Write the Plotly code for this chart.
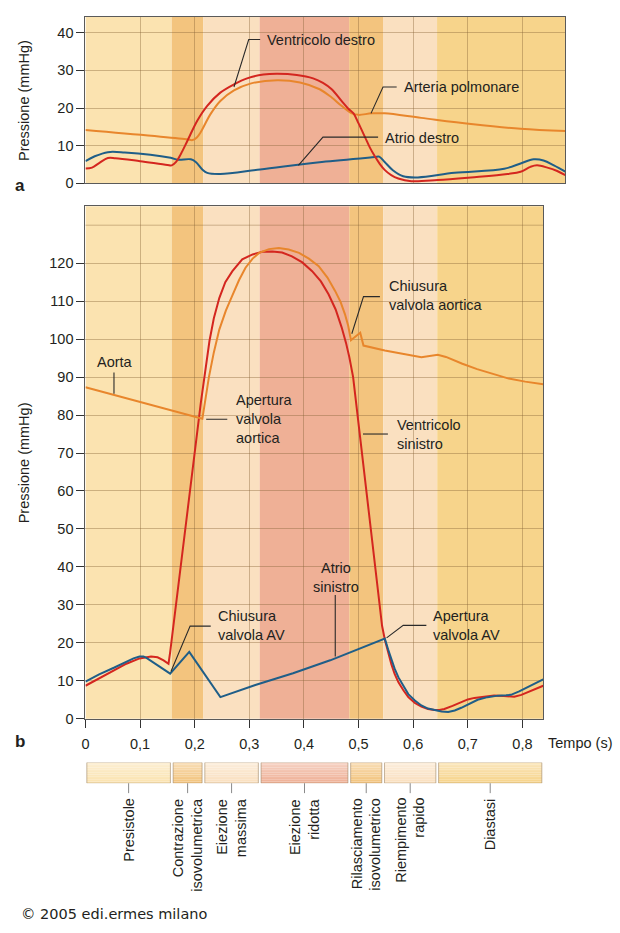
import plotly.graph_objects as go

# ---------------- data ----------------
# Top panel (a): right heart
RV_T = [0, 0.012, 0.025, 0.041, 0.055, 0.100, 0.150, 0.158, 0.166, 0.175, 0.187, 0.205, 0.223, 0.247,
        0.272, 0.296, 0.326, 0.351, 0.387, 0.417, 0.435, 0.451, 0.469, 0.481, 0.491, 0.500, 0.512,
        0.521, 0.530, 0.539, 0.548, 0.560, 0.573, 0.597, 0.645, 0.706, 0.773, 0.797, 0.815, 0.827,
        0.846, 0.864, 0.879]
RV_P = [3.95, 4.2, 5.4, 6.75, 6.7, 5.9, 4.9, 4.8, 5.7, 7.9, 11.4, 16.7, 20.6, 24.1,
        26.3, 27.9, 28.9, 29.1, 28.8, 27.9, 26.7, 25.0, 21.9, 19.9, 18.6, 16.0, 12.3,
        9.5, 7.2, 5.2, 3.6, 2.2, 1.3, 0.6, 0.9, 1.6, 2.5, 3.1, 4.4, 4.8,
        4.2, 3.3, 2.2]

PA_T = [0, 0.185, 0.196, 0.204, 0.211, 0.229, 0.247, 0.272, 0.302, 0.351, 0.393, 0.429, 0.451,
        0.469, 0.488, 0.500, 0.524, 0.548, 0.615, 0.706, 0.797, 0.879]
PA_P = [14.2, 11.75, 11.5, 12.2, 13.6, 18.4, 21.9, 24.7, 26.5, 27.4, 26.8, 25.0, 22.8,
        20.6, 18.6, 18.2, 18.6, 18.6, 17.4, 15.8, 14.5, 13.9]

RA_T = [0, 0.017, 0.041, 0.072, 0.156, 0.169, 0.193, 0.202, 0.214, 0.223, 0.247, 0.320, 0.433,
        0.530, 0.538, 0.548, 0.563, 0.582, 0.609, 0.676, 0.767, 0.797, 0.821, 0.839, 0.858, 0.879]
RA_P = [5.9, 7.2, 8.3, 8.2, 6.8, 6.3, 6.4, 5.7, 3.7, 2.8, 2.5, 3.7, 5.7,
        7.0, 7.1, 5.7, 3.5, 1.9, 1.6, 2.8, 3.9, 5.3, 6.4, 6.1, 4.8, 3.1]

# Bottom panel (b): left heart
AO_T = [0, 0.205, 0.214, 0.226, 0.235, 0.245, 0.257, 0.269, 0.281, 0.293, 0.306, 0.318, 0.336,
        0.354, 0.372, 0.391, 0.409, 0.427, 0.443, 0.457, 0.467, 0.475, 0.481, 0.486, 0.503,
        0.509, 0.548, 0.615, 0.630, 0.645, 0.660, 0.690, 0.717, 0.745, 0.775, 0.805, 0.838]
AO_P = [87.3, 79.5, 79.0, 90.0, 96.5, 102.5, 107.5, 111.5, 115.5, 118.8, 121.2, 122.7, 123.7,
        124.0, 123.6, 122.7, 121.2, 119.2, 116.2, 112.7, 109.8, 106.6, 103.5, 99.7, 101.7,
        98.3, 97.0, 95.2, 95.6, 95.9, 95.3, 93.5, 92.1, 90.8, 89.6, 88.8, 88.1]

LV_T = [0, 0.025, 0.053, 0.075, 0.099, 0.120, 0.132, 0.143, 0.152, 0.155, 0.211, 0.217, 0.221,
        0.227, 0.235, 0.245, 0.256, 0.269, 0.287, 0.306, 0.324, 0.342, 0.360, 0.378, 0.397, 0.415,
        0.431, 0.445, 0.458, 0.469, 0.477, 0.483, 0.490, 0.5355, 0.539, 0.543, 0.548, 0.554,
        0.560, 0.566, 0.573, 0.582, 0.591, 0.603, 0.615, 0.627, 0.639, 0.648, 0.657, 0.672,
        0.688, 0.700, 0.712, 0.730, 0.748, 0.766, 0.785, 0.798, 0.809, 0.824, 0.838]
LV_P = [8.7, 10.7, 12.8, 14.5, 15.9, 16.4, 16.2, 15.4, 14.5, 17.5, 83.0, 89.5, 94.0,
        99.5, 105.5, 110.8, 115.0, 117.9, 121.0, 122.3, 123.0, 123.1, 122.8, 121.8, 120.2, 117.9,
        115.2, 111.8, 107.8, 103.1, 99.0, 95.3, 90.0, 33.5, 28.3, 24.5, 20.9, 17.5,
        14.4, 11.8, 9.6, 7.5, 5.7, 4.2, 3.2, 2.6, 2.3, 2.3, 2.6, 3.4,
        4.4, 5.1, 5.5, 5.9, 6.1, 6.0, 5.8, 6.3, 7.0, 7.8, 8.7]

LA_T = [0, 0.025, 0.053, 0.075, 0.088, 0.099, 0.106, 0.111, 0.155, 0.190, 0.247, 0.311, 0.380,
        0.448, 0.500, 0.548, 0.554, 0.560, 0.566, 0.573, 0.582, 0.591, 0.603, 0.615, 0.627,
        0.639, 0.652, 0.664, 0.676, 0.688, 0.703, 0.718, 0.736, 0.755, 0.770, 0.779, 0.794,
        0.809, 0.824, 0.838]
LA_P = [9.8, 11.7, 13.5, 15.1, 15.9, 16.4, 16.4, 16.1, 11.9, 17.6, 5.7, 8.9, 12.0,
        15.4, 18.3, 21.1, 18.3, 15.7, 13.2, 10.9, 8.5, 6.5, 4.8, 3.5, 2.7,
        2.3, 1.9, 1.8, 2.2, 2.9, 4.0, 5.0, 5.7, 6.1, 6.2, 6.3, 7.2,
        8.3, 9.4, 10.4]

# Cardiac cycle phases
PHASE_NAMES = ["Presistole", "Contrazione<br>isovolumetrica", "Eiezione<br>massima",
               "Eiezione<br>ridotta", "Rilasciamento<br>isovolumetrico", "Riempimento<br>rapido",
               "Diastasi"]
PHASE_EDGES = [0, 0.158, 0.216, 0.319, 0.483, 0.545, 0.644, 0.879]

X_TICKS = [0, 0.1, 0.2, 0.3, 0.4, 0.5, 0.6, 0.7, 0.8]
X_TICK_LABELS = ["0", "0,1", "0,2", "0,3", "0,4", "0,5", "0,6", "0,7", "0,8"]
Y_TICKS_A = [0, 10, 20, 30, 40]
Y_TICKS_B = [0, 10, 20, 30, 40, 50, 60, 70, 80, 90, 100, 110, 120]

# ---------------- style ----------------
W, H = 620, 933
FONT = "Liberation Sans, Arial, sans-serif"
FS = 14.5
TXT = "#231f20"
RED = "#d4261f"
ORANGE = "#e8862c"
BLUE = "#1f5e88"
GRID = "rgba(135,100,55,0.40)"
FRAME = "#5a5a5a"
BAND_COLORS = ["#fbe3b0", "#f3c47e", "#fae0c0", "#efb096", "#f3c47e", "#fae0c0", "#f7d48b"]

XA_MAX = 0.879
XB_MAX = 0.838
YA_MAX = 44.3
YB_MAX = 135


def px(x):
    return x / W


def py(y):
    return 1 - y / H


fig = go.Figure()

line_w = 2.0
fig.add_trace(go.Scatter(x=PA_T, y=PA_P, mode="lines", line=dict(color=ORANGE, width=line_w, shape="spline"),
                         xaxis="x", yaxis="y", hoverinfo="skip"))
fig.add_trace(go.Scatter(x=RA_T, y=RA_P, mode="lines", line=dict(color=BLUE, width=line_w, shape="spline"),
                         xaxis="x", yaxis="y", hoverinfo="skip"))
fig.add_trace(go.Scatter(x=RV_T, y=RV_P, mode="lines", line=dict(color=RED, width=line_w, shape="spline"),
                         xaxis="x", yaxis="y", hoverinfo="skip"))

fig.add_trace(go.Scatter(x=LV_T, y=LV_P, mode="lines", line=dict(color=RED, width=line_w),
                         xaxis="x2", yaxis="y2", hoverinfo="skip"))
fig.add_trace(go.Scatter(x=AO_T, y=AO_P, mode="lines", line=dict(color=ORANGE, width=line_w),
                         xaxis="x2", yaxis="y2", hoverinfo="skip"))
fig.add_trace(go.Scatter(x=LA_T, y=LA_P, mode="lines", line=dict(color=BLUE, width=line_w),
                         xaxis="x2", yaxis="y2", hoverinfo="skip"))

shapes = []
# phase bands in both panels
for i in range(len(PHASE_NAMES)):
    for xr, yr in (("x", "y domain"), ("x2", "y2 domain")):
        shapes.append(dict(type="rect", xref=xr, yref=yr, x0=PHASE_EDGES[i], x1=PHASE_EDGES[i + 1],
                           y0=0, y1=1, fillcolor=BAND_COLORS[i], line=dict(width=0), layer="below"))
# extra gridline at 130 in panel b
shapes.append(dict(type="line", xref="x2 domain", yref="y2", x0=0, x1=1, y0=130, y1=130,
                   line=dict(color=GRID, width=1), layer="below"))


def hex_rgb(h):
    h = h.lstrip("#")
    return tuple(int(h[k:k + 2], 16) for k in (0, 2, 4))


# phase bar with vertical gradient
NSTRIP = 12
for i in range(len(PHASE_NAMES)):
    x0 = PHASE_EDGES[i] + 0.0025
    x1 = min(PHASE_EDGES[i + 1], XB_MAX) - 0.0025
    r, g, b = hex_rgb(BAND_COLORS[i])
    for k in range(NSTRIP):
        f = k / (NSTRIP - 1)  # 0 bottom -> 1 top
        mix = 0.42 * f
        c = "rgb(%d,%d,%d)" % (r + (255 - r) * mix, g + (255 - g) * mix, b + (255 - b) * mix)
        shapes.append(dict(type="rect", xref="x3", yref="y3", x0=x0, x1=x1, y0=k / NSTRIP,
                           y1=(k + 1) / NSTRIP, fillcolor=c, line=dict(width=0), layer="above"))
    shapes.append(dict(type="rect", xref="x3", yref="y3", x0=x0, x1=x1, y0=0, y1=1,
                       fillcolor="rgba(0,0,0,0)", line=dict(color="rgba(160,135,100,0.75)", width=0.8),
                       layer="above"))
    xc = (PHASE_EDGES[i] + min(PHASE_EDGES[i + 1], XB_MAX)) / 2
    shapes.append(dict(type="line", xref="x3", yref="paper", x0=xc, x1=xc, y0=py(790), y1=py(800),
                       line=dict(color="#8a8a8a", width=1)))


def leader(xr, yr, pts):
    d = "M " + " L ".join("%g,%g" % p for p in pts)
    shapes.append(dict(type="path", xref=xr, yref=yr, path=d, line=dict(color="#2a2a2a", width=1.1),
                       layer="above"))


# leaders, panel a
leader("x", "y", [(0.272, 25.6), (0.299, 38.2), (0.320, 38.2)])
leader("x", "y", [(0.523, 18.6), (0.545, 25.6), (0.570, 25.6)])
leader("x", "y", [(0.390, 4.8), (0.435, 12.3), (0.536, 12.3)])
# leaders, panel b
leader("x2", "y2", [(0.0522, 91.2), (0.0522, 85.6)])
leader("x2", "y2", [(0.221, 78.9), (0.2596, 78.9)])
leader("x2", "y2", [(0.508, 75.0), (0.5537, 75.0)])
leader("x2", "y2", [(0.4876, 101.4), (0.509, 111.2), (0.5391, 111.2)])
leader("x2", "y2", [(0.4573, 32.6), (0.4573, 16.4)])
leader("x2", "y2", [(0.1565, 12.45), (0.1916, 24.4), (0.2293, 24.4)])
leader("x2", "y2", [(0.5513, 21.3), (0.5817, 24.6), (0.6241, 24.6)])

ann = []


def label(text, x, y, xr, yr, xanchor="left", align="left", size=FS, **kw):
    ann.append(dict(text=text, x=x, y=y, xref=xr, yref=yr, xanchor=xanchor, yanchor=kw.pop("yanchor", "middle"),
                    align=align, showarrow=False, font=dict(family=kw.pop("family", FONT), size=size, color=TXT),
                    **kw))


label("Ventricolo destro", 0.329, 38.2, "x", "y")
label("Arteria polmonare", 0.579, 25.5, "x", "y")
label("Atrio destro", 0.545, 12.1, "x", "y")

label("Aorta", 0.0546, 93.9, "x2", "y2", xanchor="center", align="center")
label("Apertura<br>valvola<br>aortica", 0.2717, 78.9, "x2", "y2")
label("Ventricolo<br>sinistro", 0.566, 75.0, "x2", "y2")
label("Chiusura<br>valvola aortica", 0.5513, 111.5, "x2", "y2")
label("Atrio<br>sinistro", 0.4585, 37.1, "x2", "y2", xanchor="center", align="center")
label("Chiusura<br>valvola AV", 0.2383, 24.6, "x2", "y2")
label("Apertura<br>valvola AV", 0.633, 24.5, "x2", "y2")

label("Tempo (s)", px(546), py(749), "paper", "paper")
label("<b>a</b>", px(16), py(187), "paper", "paper", xanchor="center", size=17)
label("<b>b</b>", px(16), py(748), "paper", "paper", xanchor="center", size=17)
label("Pressione (mmHg)", px(20), py(101), "paper", "paper", xanchor="center", textangle=-90)
label("Pressione (mmHg)", px(20), py(466.5), "paper", "paper", xanchor="center", textangle=-90)

for i, name in enumerate(PHASE_NAMES):
    xc = (PHASE_EDGES[i] + min(PHASE_EDGES[i + 1], XB_MAX)) / 2
    label(name, xc, py(803), "x3", "paper", xanchor="center", align="right", textangle=-90, yanchor="top")

label("\u00a9 2005 edi.ermes milano", px(15), py(922), "paper", "paper",
      family="DejaVu Sans, Verdana, sans-serif", size=14.5)

axis_common = dict(showline=True, linecolor=FRAME, linewidth=1.2, mirror=True, zeroline=False,
                   showgrid=True, gridcolor=GRID, gridwidth=1,
                   tickfont=dict(family=FONT, size=FS, color=TXT))

fig.update_layout(
    width=W, height=H, autosize=False,
    margin=dict(l=0, r=0, t=0, b=0),
    paper_bgcolor="white", plot_bgcolor="white",
    showlegend=False,
    shapes=shapes, annotations=ann,
    xaxis=dict(domain=[px(82), px(565)], range=[0, XA_MAX], anchor="y", tickvals=X_TICKS,
               showticklabels=False, ticks="", **axis_common),
    yaxis=dict(domain=[py(185), py(16.7)], range=[0, YA_MAX], anchor="x", tickvals=Y_TICKS_A,
               ticks="outside", ticklen=8, tickcolor="#333", **axis_common),
    xaxis2=dict(domain=[px(82), px(542.7)], range=[0, XB_MAX], anchor="y2", tickvals=X_TICKS,
                ticktext=X_TICK_LABELS, ticks="outside", ticklen=8, tickcolor="#333",
                ticklabelstandoff=4, **axis_common),
    yaxis2=dict(domain=[py(725), py(208)], range=[0, YB_MAX], anchor="x2", tickvals=Y_TICKS_B,
                ticks="outside", ticklen=8, tickcolor="#333", **axis_common),
    xaxis3=dict(domain=[px(82), px(542.7)], range=[0, XB_MAX], anchor="y3", visible=False),
    yaxis3=dict(domain=[py(790), py(769)], range=[0, 1], anchor="x3", visible=False),
)

fig.write_html("out.html")
